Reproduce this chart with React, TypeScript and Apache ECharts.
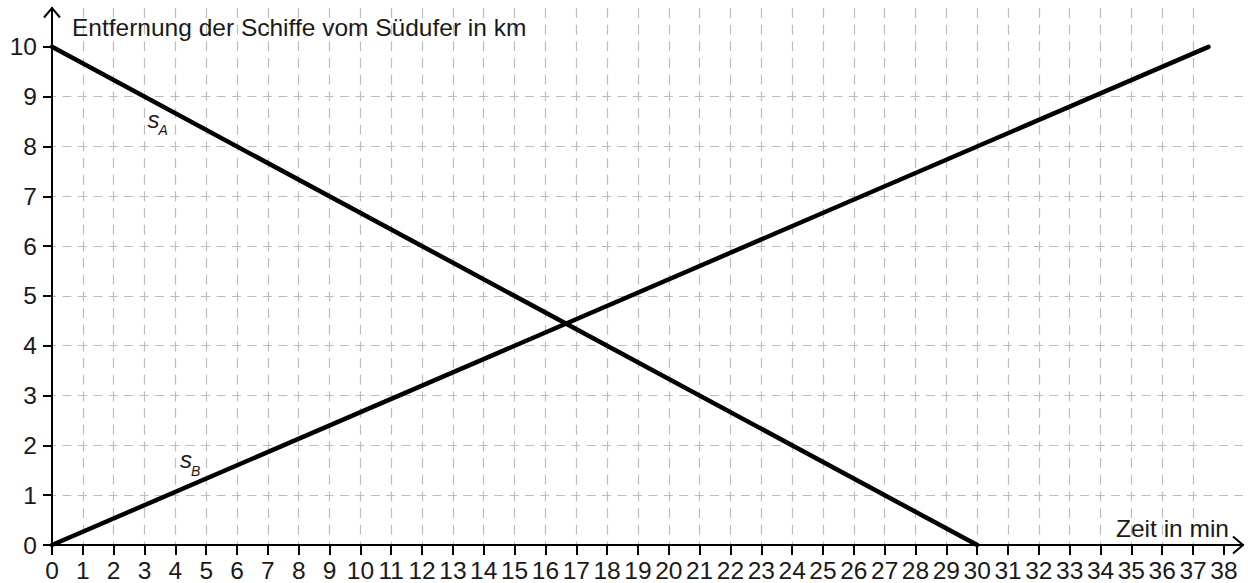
import React, { useEffect, useRef } from "react";
import * as echarts from "echarts";

// ---- data ----
const sA: [number, number][] = [
  [0, 10],
  [30, 0],
];
const sB: [number, number][] = [
  [0, 0],
  [37.5, 10],
];
const xTicks: number[] = Array.from({ length: 39 }, (_, i) => i); // 0..38
const yTicks: number[] = [0, 1, 2, 3, 4, 5, 6, 7, 8, 9, 10];
const X_MAX = 38.62;
const Y_MAX = 10.78;
const yTitle = "Entfernung der Schiffe vom Südufer in km";
const xTitle = "Zeit in min";
const curveLabels = [
  { main: "s", sub: "A", x: 3.1, y: 8.55 },
  { main: "s", sub: "B", x: 4.15, y: 1.71 },
];

const FONT = "Liberation Sans, Arial, Helvetica, sans-serif";
const TXT = "#1a1a1a";

export default function App() {
  const ref = useRef<HTMLDivElement>(null);
  useEffect(() => {
    if (!ref.current) return;
    const chart = echarts.init(ref.current, undefined, { renderer: "svg" });
    const option: any = {
      animation: false,
      backgroundColor: "#ffffff",
      grid: { left: 52, right: 5, top: 8, bottom: 36.3 },
      xAxis: {
        type: "value",
        min: 0,
        max: X_MAX,
        interval: 1,
        axisLine: { show: true, onZero: false, lineStyle: { color: "#000", width: 2 } },
        axisTick: {
          show: true,
          length: 10,
          customValues: xTicks,
          lineStyle: { color: "#000", width: 2 },
        },
        axisLabel: {
          customValues: xTicks,
          margin: 13,
          color: TXT,
          fontSize: 24.5,
          fontFamily: FONT,
        },
        splitLine: {
          show: true,
          showMinLine: false,
          showMaxLine: false,
          lineStyle: { color: "#bdbdbd", width: 1.2, type: [10, 6.67], dashOffset: 0 },
        },
      },
      yAxis: {
        type: "value",
        min: 0,
        max: Y_MAX,
        interval: 1,
        axisLine: { show: true, onZero: false, lineStyle: { color: "#000", width: 2 } },
        axisTick: {
          show: true,
          length: 9,
          customValues: yTicks,
          lineStyle: { color: "#000", width: 2 },
        },
        axisLabel: {
          customValues: yTicks,
          margin: 15,
          color: TXT,
          fontSize: 24.5,
          fontFamily: FONT,
        },
        splitLine: {
          show: true,
          showMinLine: false,
          showMaxLine: false,
          lineStyle: { color: "#bdbdbd", width: 1.2, type: [9, 6.42], dashOffset: 4.5 },
        },
      },
      series: [
        {
          name: "sA",
          type: "line",
          data: sA,
          showSymbol: false,
          symbol: "none",
          lineStyle: { color: "#000", width: 4.5, cap: "round" },
          z: 5,
        },
        {
          name: "sB",
          type: "line",
          data: sB,
          showSymbol: false,
          symbol: "none",
          lineStyle: { color: "#000", width: 4.5, cap: "round" },
          z: 5,
        },
      ],
    };
    chart.setOption(option);

    const origin = chart.convertToPixel({ gridIndex: 0 }, [0, 0]) as number[];
    const xEnd = chart.convertToPixel({ gridIndex: 0 }, [X_MAX, 0]) as number[];
    const yEnd = chart.convertToPixel({ gridIndex: 0 }, [0, Y_MAX]) as number[];

    const graphics: any[] = [
      {
        type: "polyline",
        shape: {
          points: [
            [xEnd[0] - 10, xEnd[1] - 8.5],
            [xEnd[0], xEnd[1]],
            [xEnd[0] - 10, xEnd[1] + 8.5],
          ],
        },
        style: { stroke: "#000", lineWidth: 2, fill: "none" },
        z: 100,
      },
      {
        type: "polyline",
        shape: {
          points: [
            [yEnd[0] - 8, yEnd[1] + 9.5],
            [yEnd[0], yEnd[1]],
            [yEnd[0] + 8, yEnd[1] + 9.5],
          ],
        },
        style: { stroke: "#000", lineWidth: 2, fill: "none" },
        z: 100,
      },
      {
        type: "text",
        x: origin[0] + 20,
        y: 27,
        style: {
          text: yTitle,
          fill: TXT,
          fontSize: 24.5,
          fontFamily: FONT,
          verticalAlign: "middle",
          align: "left",
        },
        z: 100,
      },
      {
        type: "text",
        x: xEnd[0] - 14,
        y: 528,
        style: {
          text: xTitle,
          fill: TXT,
          fontSize: 24.5,
          fontFamily: FONT,
          verticalAlign: "middle",
          align: "right",
        },
        z: 100,
      },
    ];
    curveLabels.forEach((l) => {
      const p = chart.convertToPixel({ gridIndex: 0 }, [l.x, l.y]) as number[];
      graphics.push({
        type: "text",
        x: p[0],
        y: p[1],
        style: {
          text: l.main,
          fill: TXT,
          fontSize: 24,
          fontStyle: "italic",
          fontFamily: FONT,
          verticalAlign: "middle",
          align: "left",
        },
        z: 100,
      });
      graphics.push({
        type: "text",
        x: p[0] + 11,
        y: p[1] + 11,
        style: {
          text: l.sub,
          fill: TXT,
          fontSize: 14,
          fontStyle: "italic",
          fontFamily: FONT,
          verticalAlign: "middle",
          align: "left",
        },
        z: 100,
      });
    });
    chart.setOption({ graphic: graphics });

    return () => chart.dispose();
  }, []);
  return (
    <div
      ref={ref}
      style={{ position: "absolute", left: 0, top: 0, width: 1248, height: 583 }}
    />
  );
}
